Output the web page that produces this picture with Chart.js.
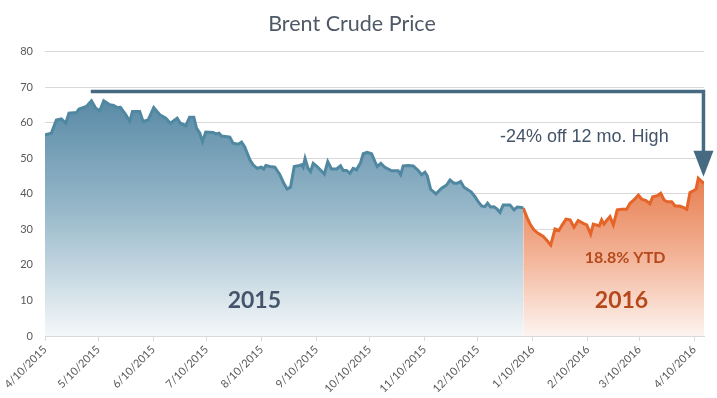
<!DOCTYPE html>
<html>
<head>
<meta charset="utf-8">
<title>Brent Crude Price</title>
<script src="https://cdn.jsdelivr.net/npm/chart.js@4"></script>
<style>
  html, body { margin: 0; padding: 0; background: #fff; }
  #wrap { width: 717px; height: 398px; }
</style>
</head>
<body>
<div id="wrap"><canvas id="brentChart"></canvas></div>
<script>
// x values are days counted from 4/10/2015
const days2015 = [0, 3.6, 6.4, 9.2, 11.7, 13.5, 17.7, 19.2, 23.3, 26.2, 28.6, 30.9, 33.1, 36.5, 38.7, 40.6, 42.5, 45.5,
    47.8, 49.3, 53.4, 55.3, 58.1, 61.3, 64.7, 68.1, 70.7, 74.5, 76.3, 79.4, 81.5, 83.9, 85.4, 87.3, 88.8, 90.6, 94.8,
    96.3, 98.1, 99.5, 104.2, 106, 108.9, 110.8, 112.6, 115.5, 117.3, 119.6, 122, 123.3, 124.5, 126.7, 129.6, 132.4,
    134.6, 136.5, 138.4, 140.5, 142.7, 144.6, 145.5, 146.6, 148.3, 149.7, 151.2, 153.4, 157.5, 159.4, 161.5, 164.4,
    166.6, 168.1, 170, 171.9, 173.7, 175.6, 177.9, 179.4, 181.6, 184.1, 186, 187.3, 189.3, 191.6, 195.4, 199.1, 200.5,
    201.9, 204.7, 207.6, 210.4, 212.3, 214.2, 215.5, 217.4, 220.4, 223.6, 226.4, 228.3, 230.5, 232.4, 234.3, 236.2,
    238.6, 240.2, 242.4, 244.2, 246.1, 248, 249.5, 251.2, 253.1, 254.9, 256.5, 258.3, 262.1, 264.4, 266.2, 268.7, 269.6];
const prices2015 = [56.6, 57.1, 60.8, 61.1, 59.9, 62.7, 62.9, 63.9, 64.6, 66.2, 64.1, 63.4, 66.2, 65.1, 64.9, 64.3, 64.4, 62.3,
    60.4, 63.2, 63.2, 60.4, 60.8, 64.3, 62.3, 61.3, 59.9, 61.3, 59.9, 59.2, 61.6, 61.6, 58.5, 57.1, 54.7, 57.4, 57.3,
    56.9, 57.1, 56.3, 56.0, 54.3, 54.0, 54.6, 53.2, 49.6, 48.2, 47.2, 47.5, 47.0, 48.0, 47.7, 47.5, 45.4,
    43.0, 41.4, 41.9, 47.7, 47.9, 48.2, 47.5, 50.0, 47.2, 46.3, 48.6, 47.7, 45.6, 49.1, 47.0, 47.0,
    47.9, 46.6, 46.6, 45.8, 47.2, 46.8, 48.8, 51.3, 51.7, 51.3, 49.1, 47.7, 48.6, 47.5, 46.5, 46.5, 45.4,
    47.9, 48.0, 47.9, 46.6, 45.4, 46.1, 45.1, 41.3, 40.0, 41.6, 42.5, 43.9, 43.0, 43.0, 43.5, 41.9,
    41.1, 40.6, 39.2, 37.8, 36.6, 36.4, 37.4, 36.3, 36.4, 35.7, 34.8, 36.9, 36.9, 35.5, 36.3, 36.2, 36.0];

const days2016 = [269.6, 271.9, 273.7, 275.6, 278, 280.9, 283.1, 285.1, 287.5, 289.7, 291.6, 293.7, 296, 298.2, 300.6, 303.4,
    305.4, 307.6, 309.1, 312.5, 313.8, 315.1, 316.6, 318.5, 320.4, 322.6, 325.1, 327.9, 329.8, 332, 334.5, 336.4,
    338.8, 341, 342.6, 345.2, 347.1, 349, 350.8, 353.3, 355.2, 357.6, 359.8, 361.8, 363.6, 365.5, 367, 368.3, 370.2, 371.5];
const prices2016 = [36.0, 33.2, 31.3, 29.9, 28.9, 28.0, 26.8, 25.6, 30.1, 29.7, 31.3, 32.9, 32.7, 30.6, 32.5, 31.7,
    31.3, 28.7, 31.5, 31.0, 32.7, 31.5, 32.5, 33.6, 31.3, 35.5, 35.7, 35.7, 37.4, 38.3, 39.7, 38.5,
    38.1, 37.2, 39.2, 39.5, 40.2, 38.3, 37.8, 37.8, 36.6, 36.6, 36.2, 35.7, 40.4, 40.9, 41.3, 44.4, 43.5, 43.0];

const tickDays = [0, 30, 61, 91, 122, 153, 183, 214, 244, 275, 306, 335, 366];
const tickLabels = ['4/10/2015', '5/10/2015', '6/10/2015', '7/10/2015', '8/10/2015', '9/10/2015', '10/10/2015',
    '11/10/2015', '12/10/2015', '1/10/2016', '2/10/2016', '3/10/2016', '4/10/2016'];

// 12 month high marker and arrow
const highValue = 68.8;
const highStartDay = 25.8;
const arrowDay = 371.2;
const arrowTipValue = 44.8;

const textLabels = [
    { text: '-24% off 12 mo. High', day: 304, value: 56, font: '18px "Liberation Sans"', color: '#44546a' },
    { text: '2015', day: 118, value: 10, font: 'bold 23px Lato', color: '#44546a' },
    { text: '2016', day: 325, value: 10, font: 'bold 23px Lato', color: '#b5491b' },
    { text: '18.8% YTD', day: 327, value: 22, font: 'bold 16px Lato', color: '#b5491b' }
];

const arrowColor = '#456a82';

function areaGradient(context, stops) {
    const area = context.chart.chartArea;
    if (!area) return null;
    const g = context.chart.ctx.createLinearGradient(0, area.top, 0, area.bottom);
    stops.forEach(([pos, color]) => g.addColorStop(pos, color));
    return g;
}

const annotations = {
    id: 'annotations',
    afterDatasetsDraw(chart) {
        const { ctx, scales: { x, y } } = chart;
        const x0 = x.getPixelForValue(highStartDay);
        const x1 = x.getPixelForValue(arrowDay);
        const yHigh = y.getPixelForValue(highValue);
        const yTip = y.getPixelForValue(arrowTipValue);

        ctx.save();
        ctx.strokeStyle = arrowColor;
        ctx.fillStyle = arrowColor;
        ctx.lineWidth = 3.5;
        ctx.beginPath();
        ctx.moveTo(x0, yHigh);
        ctx.lineTo(x1, yHigh);
        ctx.lineTo(x1, yTip - 24);
        ctx.stroke();
        ctx.beginPath();
        ctx.moveTo(x1 - 10, yTip - 26);
        ctx.lineTo(x1 + 10, yTip - 26);
        ctx.lineTo(x1, yTip);
        ctx.closePath();
        ctx.fill();

        ctx.textAlign = 'center';
        ctx.textBaseline = 'middle';
        textLabels.forEach(l => {
            ctx.font = l.font;
            ctx.fillStyle = l.color;
            ctx.fillText(l.text, x.getPixelForValue(l.day), y.getPixelForValue(l.value));
        });
        ctx.restore();
    }
};

const ctx = document.getElementById('brentChart').getContext('2d');
new Chart(ctx, {
    type: 'line',
    data: {
        datasets: [
            {
                label: '2015',
                data: days2015.map((d, i) => ({ x: d, y: prices2015[i] })),
                borderColor: 'rgb(80,136,162)',
                borderWidth: 3,
                fill: 'origin',
                backgroundColor: c => areaGradient(c, [[0.1, 'rgb(78,130,160)'], [0.55, 'rgb(150,183,201)'], [1, 'rgb(244,247,249)']]),
                pointRadius: 0,
                tension: 0
            },
            {
                label: '2016',
                data: days2016.map((d, i) => ({ x: d, y: prices2016[i] })),
                borderColor: 'rgb(229,100,40)',
                borderWidth: 3,
                fill: 'origin',
                backgroundColor: c => areaGradient(c, [[0.35, 'rgb(226,108,58)'], [0.7, 'rgb(242,175,145)'], [1, 'rgb(253,244,240)']]),
                pointRadius: 0,
                tension: 0
            }
        ]
    },
    options: {
        animation: false,
        responsive: true,
        maintainAspectRatio: false,
        layout: { padding: { left: 0, right: 13, top: 0, bottom: 0 } },
        scales: {
            x: {
                type: 'linear',
                min: 0,
                max: 371.5,
                afterBuildTicks: s => { s.ticks = tickDays.map(v => ({ value: v })); },
                afterFit: s => { s.height = 62; },
                ticks: {
                    autoSkip: false,
                    minRotation: 45,
                    maxRotation: 45,
                    padding: 2,
                    color: '#595959',
                    font: { family: 'Lato', size: 11 },
                    callback: (v, i) => tickLabels[i]
                },
                grid: { drawOnChartArea: false, drawTicks: true, tickLength: 5, color: '#d9d9d9' },
                border: { color: '#d9d9d9' }
            },
            y: {
                min: 0,
                max: 80,
                afterFit: s => { s.width = 45; },
                ticks: {
                    stepSize: 10,
                    padding: 12,
                    color: '#595959',
                    font: { family: 'Lato', size: 11 }
                },
                grid: { color: '#d9d9d9', drawTicks: false },
                border: { display: false }
            }
        },
        plugins: {
            legend: { display: false },
            tooltip: { enabled: false },
            title: {
                display: true,
                text: 'Brent Crude Price',
                color: '#4f5966',
                font: { family: 'Lato', size: 21.5, weight: 'normal' },
                padding: { top: 11, bottom: 15 }
            }
        }
    },
    plugins: [annotations]
});
</script>
</body>
</html>
